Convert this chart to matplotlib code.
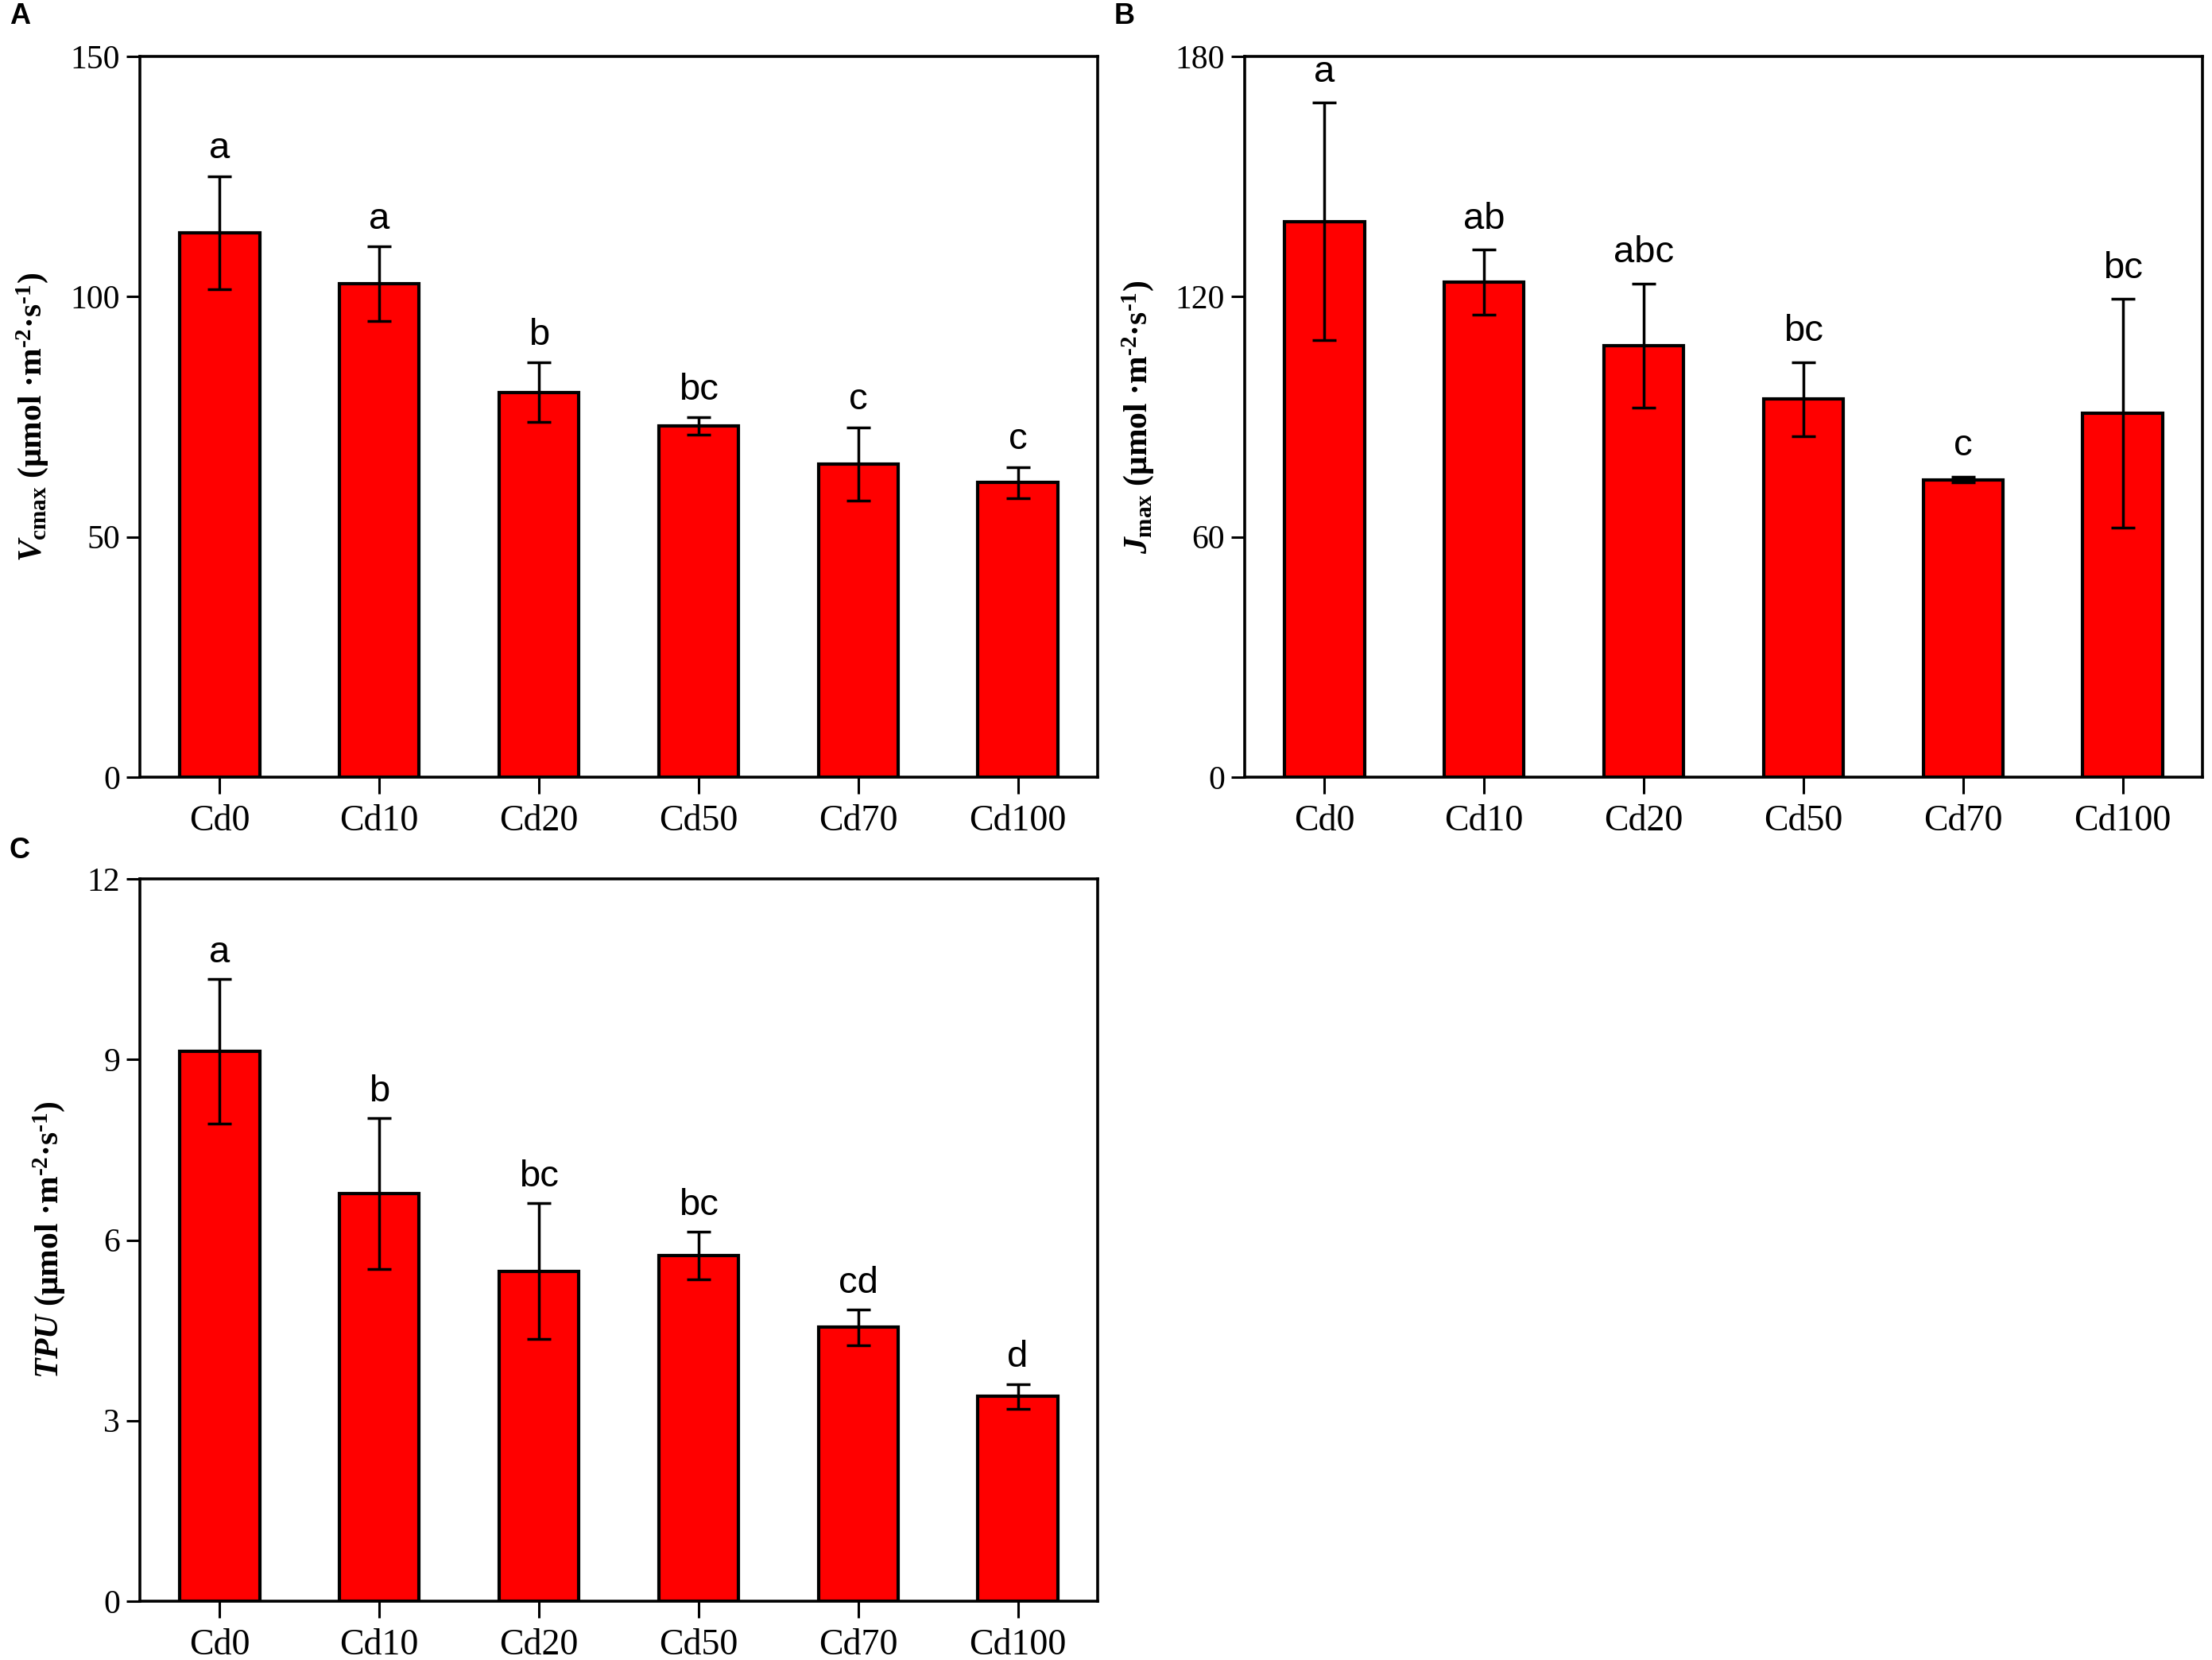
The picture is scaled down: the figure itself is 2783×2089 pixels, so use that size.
import matplotlib
matplotlib.use("Agg")
import matplotlib.pyplot as plt
import numpy as np

categories = ["Cd0", "Cd10", "Cd20", "Cd50", "Cd70", "Cd100"]

vcmax_mean = [113.3, 102.7, 80.1, 73.1, 65.2, 61.3]
vcmax_err = [11.8, 7.7, 6.2, 1.8, 7.6, 3.2]
vcmax_letters = ["a", "a", "b", "bc", "c", "c"]

jmax_mean = [138.8, 123.6, 107.8, 94.4, 74.3, 90.9]
jmax_err = [29.6, 8.1, 15.5, 9.2, 0.7, 28.5]
jmax_letters = ["a", "ab", "abc", "bc", "c", "bc"]

tpu_mean = [9.14, 6.77, 5.48, 5.74, 4.55, 3.40]
tpu_err = [1.20, 1.25, 1.13, 0.40, 0.30, 0.21]
tpu_letters = ["a", "b", "bc", "bc", "cd", "d"]

plt.rcParams["mathtext.fontset"] = "custom"
plt.rcParams["mathtext.rm"] = "Liberation Serif:bold"
plt.rcParams["mathtext.it"] = "Liberation Serif:italic:bold"
plt.rcParams["mathtext.bf"] = "Liberation Serif:bold"

W, H = 2783, 2089
fig = plt.figure(figsize=(W / 100, H / 100), dpi=100)

def px_axes(l, t, r, b):
    return fig.add_axes([l / W, 1 - b / H, (r - l) / W, (b - t) / H])

unit = r" (μmol ·m$^{\mathrm{\text{-}2}}$·s$^{\mathrm{\text{-}1}}$)"

panels = [
    (px_axes(176, 71, 1381, 978), vcmax_mean, vcmax_err, vcmax_letters, 150, [0, 50, 100, 150],
     r"$V_{\mathrm{cmax}}$" + unit, "A", 12, 21, 9),
    (px_axes(1566, 71, 2771, 978), jmax_mean, jmax_err, jmax_letters, 180, [0, 60, 120, 180],
     r"$J_{\mathrm{max}}$" + unit, "B", 1402, 21, 12),
    (px_axes(176, 1106, 1381, 2015), tpu_mean, tpu_err, tpu_letters, 12, [0, 3, 6, 9, 12],
     r"$TPU$" + unit, "C", 12, 1070, 8),
]

for ax, mean, err, letters, ymax, ticks, ylab, plab, plx, ply, off in panels:
    x = np.arange(len(categories))
    ax.bar(x, mean, width=0.5, color="#FF0000", edgecolor="black", linewidth=3, zorder=2)
    ax.errorbar(x, mean, yerr=err, fmt="none", ecolor="black", elinewidth=2.5,
                capsize=11, capthick=2.5, zorder=3)
    for xi, m, e, lt in zip(x, mean, err, letters):
        ax.annotate(lt, (xi, m + e), xytext=(0, off), textcoords="offset points",
                    ha="center", va="bottom", fontsize=34, family="Liberation Sans")
    ax.set_xlim(-0.5, 5.5)
    ax.set_ylim(0, ymax)
    ax.set_yticks(ticks)
    ax.set_xticks(x)
    ax.set_xticklabels(categories, family="Liberation Serif", fontsize=33)
    for lab in ax.get_yticklabels():
        lab.set_family("Liberation Serif")
        lab.set_fontsize(30)
    ax.tick_params(axis="y", direction="out", length=12, width=2.2, pad=6)
    ax.tick_params(axis="x", direction="out", length=15, width=2.2, pad=10)
    for sp in ax.spines.values():
        sp.set_linewidth(2.6)
    ax.set_ylabel(ylab, fontsize=30, family="Liberation Serif", fontweight="bold", labelpad=18)
    fig.text(plx / W, 1 - ply / H, plab, fontsize=26, fontweight="bold",
             family="Liberation Sans", ha="left", va="center")

fig.savefig("out.png", dpi=100)
